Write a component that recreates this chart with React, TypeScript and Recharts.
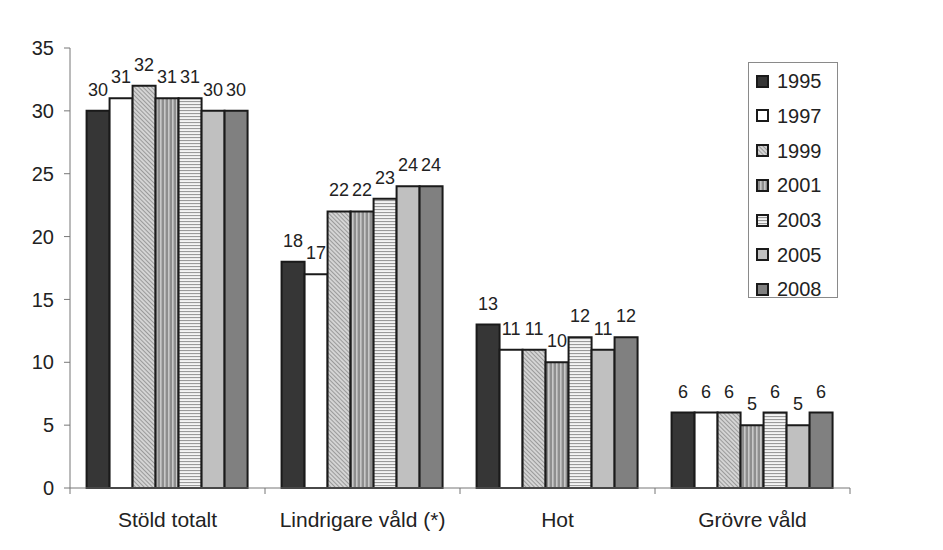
import React from 'react';
import { BarChart, Bar, XAxis, YAxis, LabelList } from 'recharts';

const categories = ['Stöld totalt', 'Lindrigare våld (*)', 'Hot', 'Grövre våld'];
const years = ['1995', '1997', '1999', '2001', '2003', '2005', '2008'];
const v1995 = [30, 18, 13, 6];
const v1997 = [31, 17, 11, 6];
const v1999 = [32, 22, 11, 6];
const v2001 = [31, 22, 10, 5];
const v2003 = [31, 23, 12, 6];
const v2005 = [30, 24, 11, 5];
const v2008 = [30, 24, 12, 6];
const yTicks = [0, 5, 10, 15, 20, 25, 30, 35];

const seriesValues = [v1995, v1997, v1999, v2001, v2003, v2005, v2008];
const fills = ['#363636', '#ffffff', 'url(#p1999)', 'url(#p2001)', 'url(#p2003)', '#c0c0c0', '#808080'];

const data = categories.map((cat, i) => {
  const row: any = { cat };
  years.forEach((y, k) => {
    row['y' + y] = seriesValues[k][i];
  });
  return row;
});

const FONT = '"Liberation Sans", Arial, sans-serif';

const CatTick = (props: any) => {
  const { x, y, payload, index, visibleTicksCount } = props;
  const off = payload && payload.offset > 0 ? payload.offset : 97.5;
  const last = index === (visibleTicksCount ?? categories.length) - 1;
  return (
    <g>
      <line x1={x - off} x2={x - off} y1={y} y2={y + 6} stroke="#777" strokeWidth={1} />
      {last && <line x1={x + off} x2={x + off} y1={y} y2={y + 6} stroke="#777" strokeWidth={1} />}
      <text x={x} y={y + 39} textAnchor="middle" fontSize={21} fill="#222" fontFamily={FONT}>
        {payload.value}
      </text>
    </g>
  );
};

const Defs = () => (
  <svg width="0" height="0" style={{ position: 'absolute' }}>
    <defs>
      <pattern id="p1999" width="3" height="3" patternUnits="userSpaceOnUse" patternTransform="rotate(-45)">
        <rect width="3" height="3" fill="#d4d4d4" />
        <line x1="0.5" y1="0" x2="0.5" y2="3" stroke="#9a9a9a" strokeWidth="1" />
      </pattern>
      <pattern id="p2001" width="4" height="4" patternUnits="userSpaceOnUse">
        <rect width="4" height="4" fill="#8e8e8e" />
        <rect x="0" y="0" width="1.6" height="4" fill="#c8c8c8" />
      </pattern>
      <pattern id="p2003" width="4" height="3" patternUnits="userSpaceOnUse">
        <rect width="4" height="3" fill="#f4f4f4" />
        <rect x="0" y="0" width="4" height="1.1" fill="#9a9a9a" />
      </pattern>
    </defs>
  </svg>
);

const LegendBox = () => (
  <div
    style={{
      position: 'absolute',
      left: 740,
      top: 54,
      width: 88,
      height: 234,
      border: '1px solid #8a8a8a',
      background: '#fff',
      fontFamily: FONT,
      fontSize: 20,
      color: '#222',
      boxSizing: 'content-box',
    }}
  >
    {years.map((yr, k) => (
      <div
        key={yr}
        style={{
          position: 'absolute',
          left: 0,
          top: 1 + k * 34.67,
          height: 34.67,
          width: 88,
          display: 'flex',
          alignItems: 'center',
        }}
      >
        <svg width={13} height={13} style={{ marginLeft: 7, marginRight: 8 }}>
          <rect x={1} y={1} width={11} height={11} fill={fills[k]} stroke="#1a1a1a" strokeWidth={2} />
        </svg>
        <span style={{ lineHeight: '20px' }}>{yr}</span>
      </div>
    ))}
  </div>
);

export default function App() {
  return (
    <div style={{ position: 'relative', width: 935, height: 542, background: '#fff' }}>
      <Defs />
      <BarChart
        width={935}
        height={542}
        data={data}
        margin={{ top: 40, right: 93, left: 0, bottom: 12 }}
        barCategoryGap="8.5%"
        barGap={0}
      >
        <XAxis
          dataKey="cat"
          height={50}
          tickLine={false}
          tickSize={0}
          tickMargin={0}
          axisLine={{ stroke: '#777', strokeWidth: 1 }}
          tick={<CatTick />}
          interval={0}
        />
        <YAxis
          width={62}
          domain={[0, 35]}
          ticks={yTicks}
          interval={0}
          tickSize={6}
          tickMargin={10}
          axisLine={{ stroke: '#777', strokeWidth: 1 }}
          tickLine={{ stroke: '#777', strokeWidth: 1 }}
          tick={{ fontSize: 20, fill: '#222', fontFamily: FONT }}
        />
        {years.map((yr, k) => (
          <Bar
            key={yr}
            dataKey={'y' + yr}
            name={yr}
            fill={fills[k]}
            stroke="#1a1a1a"
            strokeWidth={2}
            isAnimationActive={false}
          >
            <LabelList
              dataKey={'y' + yr}
              position="top"
              offset={15}
              fontSize={18}
              fill="#222"
              fontFamily={FONT}
            />
          </Bar>
        ))}
      </BarChart>
      <LegendBox />
    </div>
  );
}
